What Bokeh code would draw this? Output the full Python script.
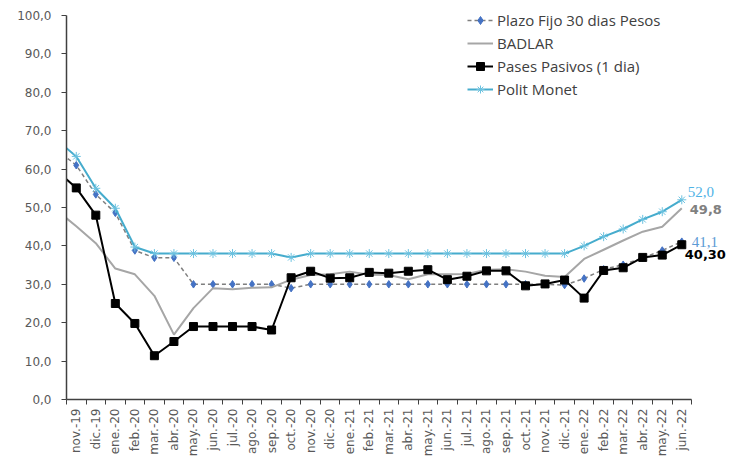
import numpy as np
from bokeh.plotting import figure
from bokeh.models import Range1d, FixedTicker, Legend, LegendItem
from bokeh.embed import file_html
from bokeh.resources import INLINE
from bokeh.core.properties import value

# Monthly rates (%), Oct-2019 to Jun-2022; oct.-19 only feeds the line entering from the left edge
months = [
    "oct.-19", "nov.-19", "dic.-19",
    "ene.-20", "feb.-20", "mar.-20", "abr.-20", "may.-20", "jun.-20",
    "jul.-20", "ago.-20", "sep.-20", "oct.-20", "nov.-20", "dic.-20",
    "ene.-21", "feb.-21", "mar.-21", "abr.-21", "may.-21", "jun.-21",
    "jul.-21", "ago.-21", "sep.-21", "oct.-21", "nov.-21", "dic.-21",
    "ene.-22", "feb.-22", "mar.-22", "abr.-22", "may.-22", "jun.-22",
]

plazo_fijo = [
    65.0, 61.0, 53.4,
    48.6, 38.8, 36.9, 36.9, 30.0, 30.0, 30.0, 30.0, 30.0, 29.0, 30.0, 30.0,
    30.0, 30.0, 30.0, 30.0, 30.0, 30.0, 30.0, 30.0, 30.0, 30.0, 30.0, 29.8,
    31.5, 33.9, 35.1, 36.9, 38.8, 41.1,
]

badlar = [
    49.3, 45.1, 40.7,
    34.1, 32.6, 27.0, 16.9, 23.8, 29.0, 28.7, 29.1, 29.2, 31.2, 32.4, 32.6,
    33.3, 32.5, 32.4, 31.3, 32.6, 32.6, 32.7, 33.8, 33.9, 33.3, 32.2, 31.9,
    36.6, 39.0, 41.4, 43.7, 45.0, 49.8,
]

pases_pasivos = [
    59.6, 55.1, 48.0,
    25.0, 19.8, 11.4, 15.1, 19.0, 19.0, 19.0, 19.0, 18.1, 31.7, 33.4, 31.6,
    31.7, 33.1, 32.9, 33.4, 33.8, 31.2, 32.1, 33.5, 33.5, 29.6, 30.1, 31.1,
    26.4, 33.6, 34.3, 37.0, 37.6, 40.3,
]

polit_monet = [
    67.6, 63.3, 55.0,
    49.8, 39.7, 38.0, 38.0, 38.0, 38.0, 38.0, 38.0, 38.0, 37.0, 38.0, 38.0,
    38.0, 38.0, 38.0, 38.0, 38.0, 38.0, 38.0, 38.0, 38.0, 38.0, 38.0, 38.0,
    40.0, 42.4, 44.4, 46.9, 48.9, 52.0,
]

y_ticks = list(range(0, 101, 10))

x = list(range(len(months)))
last = x[-1]

AXIS = "#404040"
LABEL = "#595959"

# the frame runs a little above 100 so the legend has room; the axis stops at 100
p = figure(
    width=743, height=459, output_backend="svg", toolbar_location=None,
    x_range=Range1d(0.5, 34.75), y_range=Range1d(0, 103.9),
    min_border_left=66, min_border_right=8, min_border_top=0, min_border_bottom=59,
)
p.xgrid.visible = False
p.ygrid.visible = False
p.outline_line_color = None

# series
r_pf_line = p.line(x, plazo_fijo, line_color="#7F7F7F", line_width=1.5, line_dash="4 3")
r_pf_pts = p.scatter(x, plazo_fijo, marker="diamond", size=7.5,
                     fill_color="#4472C4", line_color="#4472C4")

r_bad = p.line(x, badlar, line_color="#A6A6A6", line_width=2)

r_pp_line = p.line(x, pases_pasivos, line_color="black", line_width=2)
r_pp_pts = p.scatter(x, pases_pasivos, marker="square", size=8,
                     fill_color="black", line_color="black")

r_pm_line = p.line(x, polit_monet, line_color="#46ACCD", line_width=2)
r_pm_pts = p.scatter(x, polit_monet, marker="asterisk", size=9,
                     line_color="#6CC2E0", line_width=1)

# end-of-series value labels
def fmt(v, d=1):
    return f"{v:.{d}f}".replace(".", ",")

p.text([last], [polit_monet[-1]], text=[fmt(polit_monet[-1])], x_offset=6, y_offset=-8,
       text_align="left", text_baseline="middle", text_font=value("Liberation Serif"),
       text_font_size="15px", text_color="#4FB3E6")
p.text([last], [badlar[-1]], text=[fmt(badlar[-1])], x_offset=8, y_offset=1,
       text_align="left", text_baseline="middle", text_font=value("DejaVu Sans"),
       text_font_size="13px", text_font_style="bold", text_color="#808080")
p.text([last], [plazo_fijo[-1]], text=[fmt(plazo_fijo[-1])], x_offset=10, y_offset=0,
       text_align="left", text_baseline="middle", text_font=value("Liberation Serif"),
       text_font_size="15px", text_color="#5B9BD5")
p.text([last], [pases_pasivos[-1]], text=[fmt(pases_pasivos[-1], 2)], x_offset=3, y_offset=10,
       text_align="left", text_baseline="middle", text_font=value("DejaVu Sans"),
       text_font_size="13px", text_font_style="bold", text_color="black")

# x axis: labels centred in each month, ticks on month boundaries
p.xaxis.ticker = FixedTicker(ticks=x[1:], minor_ticks=[k + 0.5 for k in range(len(months))])
p.xaxis.bounds = (0.5, last + 0.5)
p.xaxis.major_label_overrides = {i: months[i] for i in x[1:]}
p.xaxis.major_label_orientation = np.pi / 2
p.xaxis.major_tick_in = 0
p.xaxis.major_tick_out = 0
p.xaxis.minor_tick_in = 0
p.xaxis.minor_tick_out = 5
p.xaxis.minor_tick_line_color = AXIS
p.xaxis.axis_line_color = AXIS
p.xaxis.axis_line_width = 1.5
p.xaxis.major_label_standoff = 4
p.xaxis.major_label_text_font = "DejaVu Sans"
p.xaxis.major_label_text_font_size = "12px"
p.xaxis.major_label_text_color = LABEL

# y axis
p.yaxis.ticker = FixedTicker(ticks=y_ticks)
p.yaxis.bounds = (0, 100)
p.yaxis.major_label_overrides = {t: f"{t},0" for t in y_ticks}
p.yaxis.major_tick_in = 0
p.yaxis.major_tick_out = 5
p.yaxis.major_tick_line_color = AXIS
p.yaxis.minor_tick_line_color = None
p.yaxis.axis_line_color = AXIS
p.yaxis.axis_line_width = 1.5
p.yaxis.major_label_standoff = 10
p.yaxis.major_label_text_font = "DejaVu Sans"
p.yaxis.major_label_text_font_size = "12px"
p.yaxis.major_label_text_color = LABEL

legend = Legend(
    items=[
        LegendItem(label="Plazo Fijo 30 dias Pesos", renderers=[r_pf_line, r_pf_pts]),
        LegendItem(label="BADLAR", renderers=[r_bad]),
        LegendItem(label="Pases Pasivos (1 dia)", renderers=[r_pp_line, r_pp_pts]),
        LegendItem(label="Polit Monet", renderers=[r_pm_line, r_pm_pts]),
    ],
    location=(401, 300),
    padding=0, margin=0, spacing=3, label_standoff=4,
    glyph_width=26, glyph_height=20, label_height=20,
    border_line_color=None, background_fill_alpha=0,
    label_text_font="Open Sans", label_text_font_size="15px", label_text_color="#404040",
)
p.add_layout(legend)

open("out.html", "w").write(file_html(p, INLINE))
